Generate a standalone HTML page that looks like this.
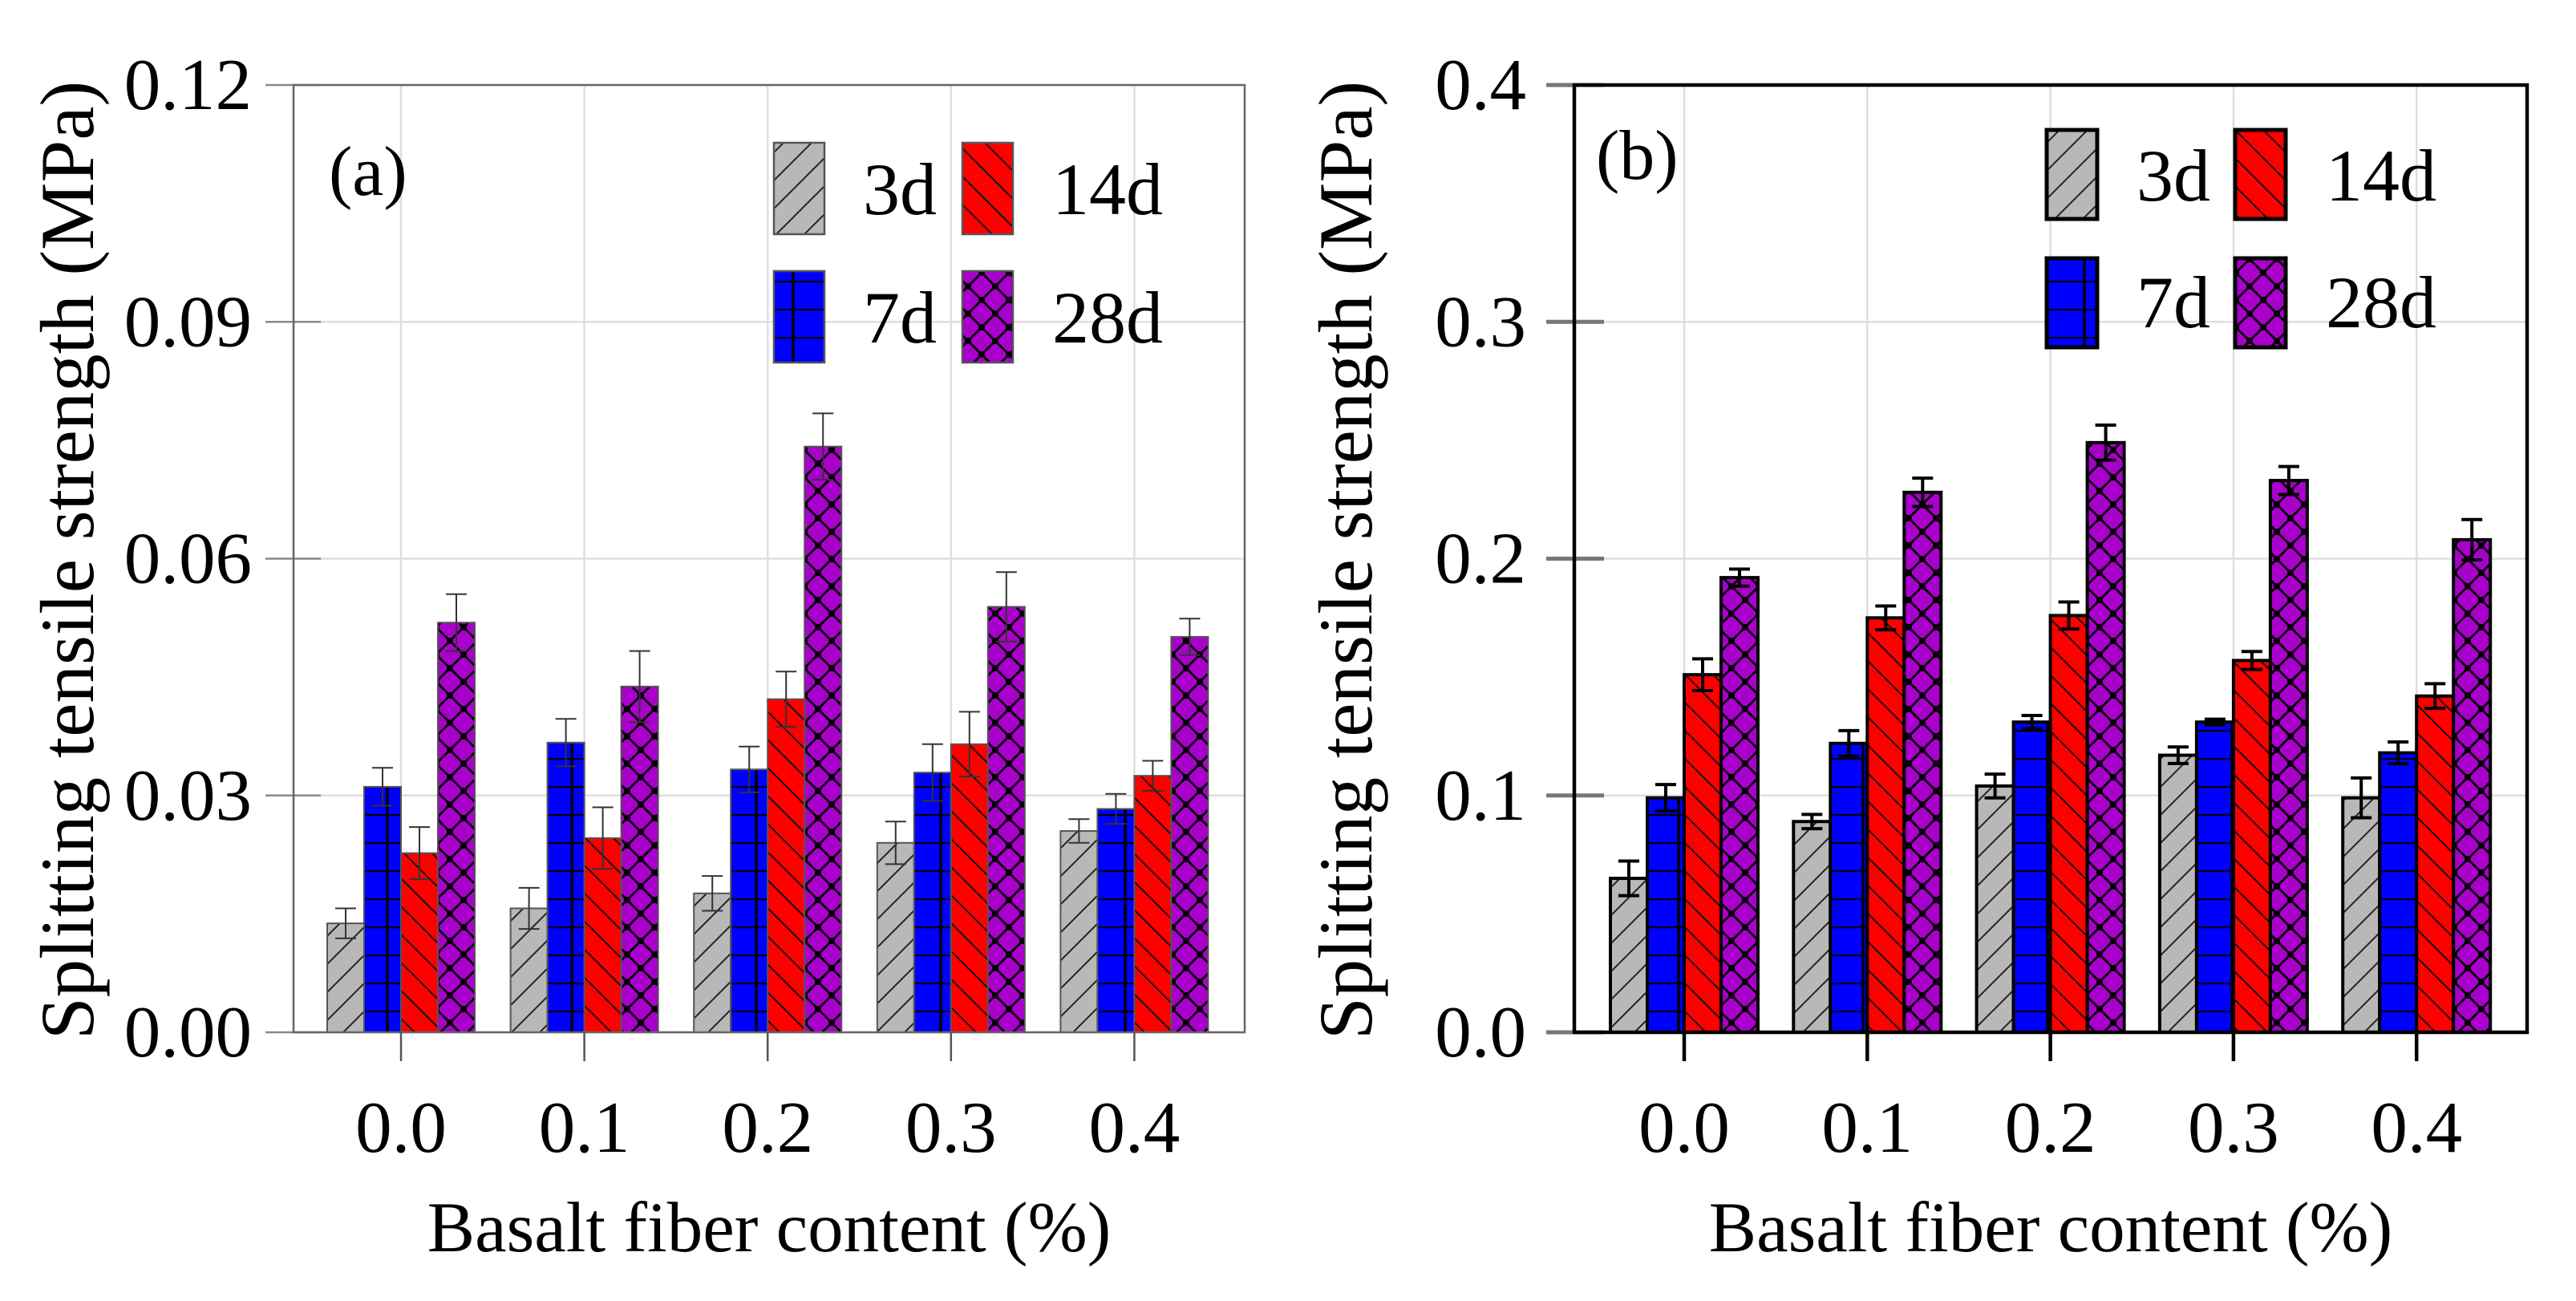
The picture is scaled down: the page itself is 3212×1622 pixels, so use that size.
<!DOCTYPE html>
<html><head><meta charset="utf-8"><style>
html,body{margin:0;padding:0;background:#fff;}
svg text{font-family:"Liberation Serif",serif;fill:#000;}
</style></head><body>
<svg id="fig" width="3212" height="1617" viewBox="0 0 3212 1617" xmlns="http://www.w3.org/2000/svg">
<defs>
<pattern id="p3" patternUnits="userSpaceOnUse" width="35" height="35"><rect width="35" height="35" fill="#b8b8b8"/><path d="M-5,40 L40,-5 M-5,5 L5,-5 M30,40 L40,30" stroke="#222" stroke-width="2"/></pattern>
<pattern id="p7" patternUnits="userSpaceOnUse" width="46" height="35"><rect width="46" height="35" fill="#0000ff"/><path d="M0,0.5 H46 M23,0 V35" stroke="#000" stroke-width="3.5"/></pattern>
<pattern id="p14" patternUnits="userSpaceOnUse" width="35" height="35"><rect width="35" height="35" fill="#ff0000"/><path d="M-5,-5 L40,40 M30,-5 L40,5 M-5,30 L5,40" stroke="#111" stroke-width="2"/></pattern>
<pattern id="p28" patternUnits="userSpaceOnUse" width="34" height="34"><rect width="34" height="34" fill="#aa00cc"/><path d="M0,0 L34,34 M34,0 L0,34" stroke="#000" stroke-width="2.8"/><circle cx="17" cy="17" r="4" fill="#000"/><circle cx="0" cy="0" r="4" fill="#000"/><circle cx="34" cy="0" r="4" fill="#000"/><circle cx="0" cy="34" r="4" fill="#000"/><circle cx="34" cy="34" r="4" fill="#000"/></pattern>
</defs>
</svg>
<script>
const categories = ["0.0","0.1","0.2","0.3","0.4"];
const seriesNames = ["3d","7d","14d","28d"];
const aValues = [
  [0.0138,0.0157,0.0176,0.0240,0.0255],
  [0.0311,0.0367,0.0333,0.0329,0.0283],
  [0.0227,0.0246,0.0422,0.0365,0.0325],
  [0.0519,0.0438,0.0742,0.0539,0.0501]
];
const aErrors = [
  [0.0019,0.0026,0.0022,0.0027,0.0015],
  [0.0024,0.0030,0.0029,0.0036,0.0019],
  [0.0033,0.0039,0.0035,0.0041,0.0019],
  [0.0036,0.0045,0.0042,0.0044,0.0023]
];
const bValues = [
  [0.065,0.089,0.104,0.117,0.099],
  [0.099,0.122,0.131,0.131,0.118],
  [0.151,0.175,0.176,0.157,0.142],
  [0.192,0.228,0.249,0.233,0.208]
];
const bErrors = [
  [0.0073,0.003,0.005,0.0035,0.0084],
  [0.0056,0.0054,0.0028,0.0012,0.0046],
  [0.0067,0.005,0.0057,0.0038,0.0052],
  [0.0036,0.006,0.0074,0.0059,0.0085]
];
const aTicks = ["0.00","0.03","0.06","0.09","0.12"];
const bTicks = ["0.0","0.1","0.2","0.3","0.4"];
const aMax = 0.12, bMax = 0.4;

const NS="http://www.w3.org/2000/svg";
const svg=document.getElementById('fig');
function mk(tag,attrs,parent){const e=document.createElementNS(NS,tag);for(const k in attrs)e.setAttribute(k,attrs[k]);(parent||svg).appendChild(e);return e;}
const fills=["url(#p3)","url(#p7)","url(#p14)","url(#p28)"];

function chart(cfg){
  const g=mk('g',{});
  
  
  const {x0,x1,y0,y1}=cfg;
  const ys=v=>y1-(v/cfg.max)*(y1-y0);
  const step=cfg.step;
  const xs=i=>cfg.c0+i*step;
  cfg.ticks.forEach((t,i)=>{
    const v=cfg.max*i/(cfg.ticks.length-1);const y=ys(v);
    const gl=mk('line',{x1:x0,x2:x1,y1:y,y2:y,stroke:'#dedede','stroke-width':2.5},g);
    
    
    const tk=mk('line',{x1:cfg.tickL,x2:cfg.tickR,y1:y,y2:y,stroke:cfg.tickColor,'stroke-width':cfg.tickW},g);
    
    
    const tl=mk('text',{x:cfg.labelX,y:y+30,'font-size':91,'text-anchor':'end'},g);
    tl.textContent=t;
    
    
  });
  categories.forEach((c,i)=>{
    const gl=mk('line',{x1:xs(i),x2:xs(i),y1:y0,y2:y1,stroke:'#dedede','stroke-width':2.5},g);
    
    
  });
  const bw=46;
  cfg.values.forEach((ser,s)=>{
    ser.forEach((v,i)=>{
      const x=xs(i)-2*bw+s*bw;const y=ys(v);
      const r=mk('rect',{x:x,y:y,width:bw,height:y1-y,fill:fills[s],stroke:cfg.barStroke,'stroke-width':cfg.barW},g);
      
      
      const e=cfg.errors[s][i];const cx=x+bw/2;
      const ey1=ys(v+e),ey2=ys(v-e);
      const eb=mk('path',{d:`M${cx},${ey1}V${ey2}M${cx-cfg.cap},${ey1}H${cx+cfg.cap}M${cx-cfg.cap},${ey2}H${cx+cfg.cap}`,stroke:cfg.errColor,'stroke-width':cfg.errW,fill:'none'},g);
      
      
    });
  });
  const fr=mk('rect',{x:x0,y:y0,width:x1-x0,height:y1-y0,fill:'none',stroke:cfg.frameColor,'stroke-width':cfg.frameW},g);
  
  
  categories.forEach((c,i)=>{
    const tk=mk('line',{x1:xs(i),x2:xs(i),y1:y1,y2:y1+36,stroke:cfg.xTickColor,'stroke-width':cfg.xTickW},g);
    
    
    const tl=mk('text',{x:xs(i),y:1436,'font-size':91,'text-anchor':'middle'},g);
    tl.textContent=c;
    
    
  });
  const xt=mk('text',{x:(x0+x1)/2,y:1560,'font-size':89,'text-anchor':'middle'},g);
  xt.textContent='Basalt fiber content (%)';
  
  
  const yt=mk('text',{x:0,y:0,'font-size':95,'text-anchor':'middle',transform:`translate(${cfg.titleX},${(y0+y1)/2+2}) rotate(-90)`},g);
  yt.textContent='Splitting tensile strength (MPa)';
  
  
  const pl=mk('text',{x:cfg.panelX,y:cfg.panelY,'font-size':88},g);
  pl.textContent=cfg.panel;
  
  
  const L=cfg.legend;
  seriesNames.forEach((n,s)=>{
    const c=(s===0||s===1)?0:1;const rIdx=(s===0||s===2)?0:1;
    const bx=L.bx[c],by=L.by[rIdx];
    const lr=mk('rect',{x:bx,y:by,width:L.w,height:L.h,fill:fills[s],stroke:cfg.legStroke,'stroke-width':cfg.legW},g);
    
    
    const lt=mk('text',{x:L.tx[c],y:L.ty[rIdx],'font-size':92},g);
    lt.textContent=n;
    
    
  });
}
chart({name:'chart-a',x0:366,x1:1552,y0:106,y1:1287,c0:500,step:228.6,max:aMax,ticks:aTicks,values:aValues,errors:aErrors,
  tickL:331,tickR:400,tickColor:'#888',tickW:2.5,labelX:314,barStroke:'#555',barW:2,errColor:'#333',errW:2,cap:13,
  frameColor:'#666',frameW:2.5,xTickColor:'#555',xTickW:2.5,titleX:116,panel:'(a)',panelX:410,panelY:243,
  legStroke:'#555',legW:2.5,legend:{bx:[965,1200],by:[178,338],w:63,h:114,tx:[1076,1312],ty:[267,427]}});
chart({name:'chart-b',x0:1963,x1:3151,y0:106,y1:1287,c0:2100,step:228.3,max:bMax,ticks:bTicks,values:bValues,errors:bErrors,
  tickL:1928,tickR:2000,tickColor:'#777',tickW:5,labelX:1903,barStroke:'#000',barW:4,errColor:'#000',errW:4,cap:13,
  frameColor:'#000',frameW:4.5,xTickColor:'#000',xTickW:4.5,titleX:1710,panel:'(b)',panelX:1990,panelY:223,
  legStroke:'#000',legW:5,legend:{bx:[2552,2787],by:[162,322],w:63,h:111,tx:[2664,2900],ty:[250,408]}});
</script>
</body></html>
